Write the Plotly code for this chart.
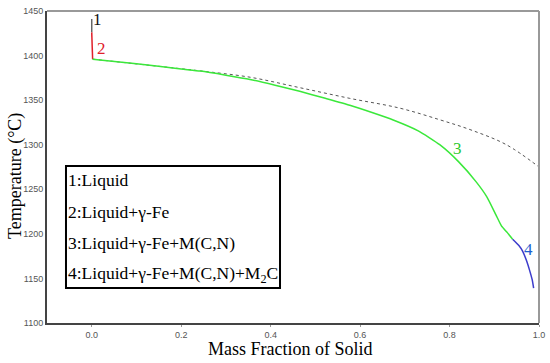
import plotly.graph_objects as go

# Data
liquid_x = [0.0, 0.0]
liquid_T = [1441, 1426]

gfe_x = [0.0, 0.002]
gfe_T = [1426, 1396]

mcn_x = [0.002, 0.1, 0.2, 0.243, 0.3, 0.354, 0.41, 0.465, 0.52, 0.577, 0.63, 0.674, 0.73, 0.778, 0.82, 0.86, 0.884, 0.904, 0.916, 0.928, 0.941]
mcn_T = [1396, 1390.8, 1384.9, 1382.6, 1378, 1373.2, 1366.7, 1359.9, 1352.3, 1344.2, 1335.5, 1327.7, 1315.5, 1300, 1281, 1258, 1241, 1221, 1209, 1202, 1194]

m2c_x = [0.941, 0.955, 0.963, 0.972, 0.979, 0.985, 0.988]
m2c_T = [1194, 1187, 1181, 1170, 1159, 1148, 1139]

eq_x = [0.002, 0.2, 0.243, 0.354, 0.465, 0.577, 0.689, 0.778, 0.851, 0.927, 1.0]
eq_T = [1396, 1385.2, 1382.8, 1375.7, 1364, 1352, 1341, 1328, 1316, 1300, 1275]

legend_lines = ["1:Liquid", "2:Liquid+γ-Fe", "3:Liquid+γ-Fe+M(C,N)", "4:Liquid+γ-Fe+M(C,N)+M<sub>2</sub>C"]

x_ticks = [0.0, 0.2, 0.4, 0.6, 0.8, 1.0]
y_ticks = [1100, 1150, 1200, 1250, 1300, 1350, 1400, 1450]

fig = go.Figure()
fig.add_trace(go.Scatter(x=eq_x, y=eq_T, mode="lines",
                         line=dict(color="#555555", width=1, dash="dot", shape="spline")))
fig.add_trace(go.Scatter(x=liquid_x, y=liquid_T, mode="lines", line=dict(color="#666666", width=1.5)))
fig.add_trace(go.Scatter(x=gfe_x, y=gfe_T, mode="lines", line=dict(color="#e0202a", width=1.5)))
fig.add_trace(go.Scatter(x=mcn_x, y=mcn_T, mode="lines",
                         line=dict(color="#3be83b", width=1.5, shape="spline", smoothing=0.5)))
fig.add_trace(go.Scatter(x=m2c_x, y=m2c_T, mode="lines",
                         line=dict(color="#3c3ccc", width=1.5, shape="spline", smoothing=0.5)))

serif = "Liberation Serif, Times New Roman, serif"
lab = [("1", 0.012, 1440, "#111111"), ("2", 0.021, 1408, "#e0202a"),
       ("3", 0.818, 1296, "#2ec92e"), ("4", 0.977, 1182, "#1e5fd0")]
for t, x, y, c in lab:
    fig.add_annotation(x=x, y=y, text=t, showarrow=False, xanchor="center", yanchor="middle",
                       font=dict(family=serif, size=17, color=c))

fig.add_shape(type="rect", xref="paper", yref="paper", x0=0.0386, x1=0.4736, y0=0.112, y1=0.503,
              line=dict(color="black", width=2), fillcolor="white", layer="above")
ys = [0.458, 0.356, 0.256, 0.154]
for t, y in zip(legend_lines, ys):
    fig.add_annotation(x=0.039, y=y, xref="paper", yref="paper", text=t, showarrow=False,
                       xanchor="left", yanchor="middle", font=dict(family=serif, size=17.5, color="black"))

# axis titles placed as annotations for exact position
fig.add_annotation(x=0.494, y=0, xref="paper", yref="paper", yshift=-26, text="Mass Fraction of Solid",
                   showarrow=False, xanchor="center", yanchor="middle",
                   font=dict(family=serif, size=18, color="black"))
fig.add_annotation(x=0, y=0.471, xref="paper", yref="paper", xshift=-32, text="Temperature (°C)",
                   textangle=-90, showarrow=False, xanchor="center", yanchor="middle",
                   font=dict(family=serif, size=18, color="black"))

fig.update_layout(
    width=550, height=363, margin=dict(l=47, r=11, t=11, b=40),
    plot_bgcolor="white", paper_bgcolor="white", showlegend=False,
    xaxis=dict(range=[-0.1, 1.0], tickvals=x_ticks, ticktext=[f"{v:.1f}" for v in x_ticks],
               automargin=False, ticklabeloverflow="allow",
               showgrid=False, zeroline=False, showline=True, linecolor="#444444", linewidth=2,
               mirror=False, ticks="outside", ticklen=2, tickcolor="#999999",
               tickfont=dict(family="Liberation Sans, Arial", size=9, color="#555555")),
    yaxis=dict(range=[1100, 1450], tickvals=y_ticks, showgrid=False, zeroline=False, showline=True,
               automargin=False, ticklabeloverflow="allow",
               linecolor="#444444", linewidth=2, ticks="", ticklen=2,
               tickfont=dict(family="Liberation Sans, Arial", size=9, color="#555555")),
)
# top and right frame (lighter gray)
fig.add_shape(type="line", xref="paper", yref="paper", x0=0, x1=1, y0=1, y1=1, line=dict(color="#999999", width=2))
fig.add_shape(type="line", xref="paper", yref="paper", x0=1, x1=1, y0=0, y1=1, line=dict(color="#999999", width=2))

fig.write_html("out.html", config={"displayModeBar": False},
               post_script="document.body.style.margin='0';document.body.style.overflow='hidden';")
